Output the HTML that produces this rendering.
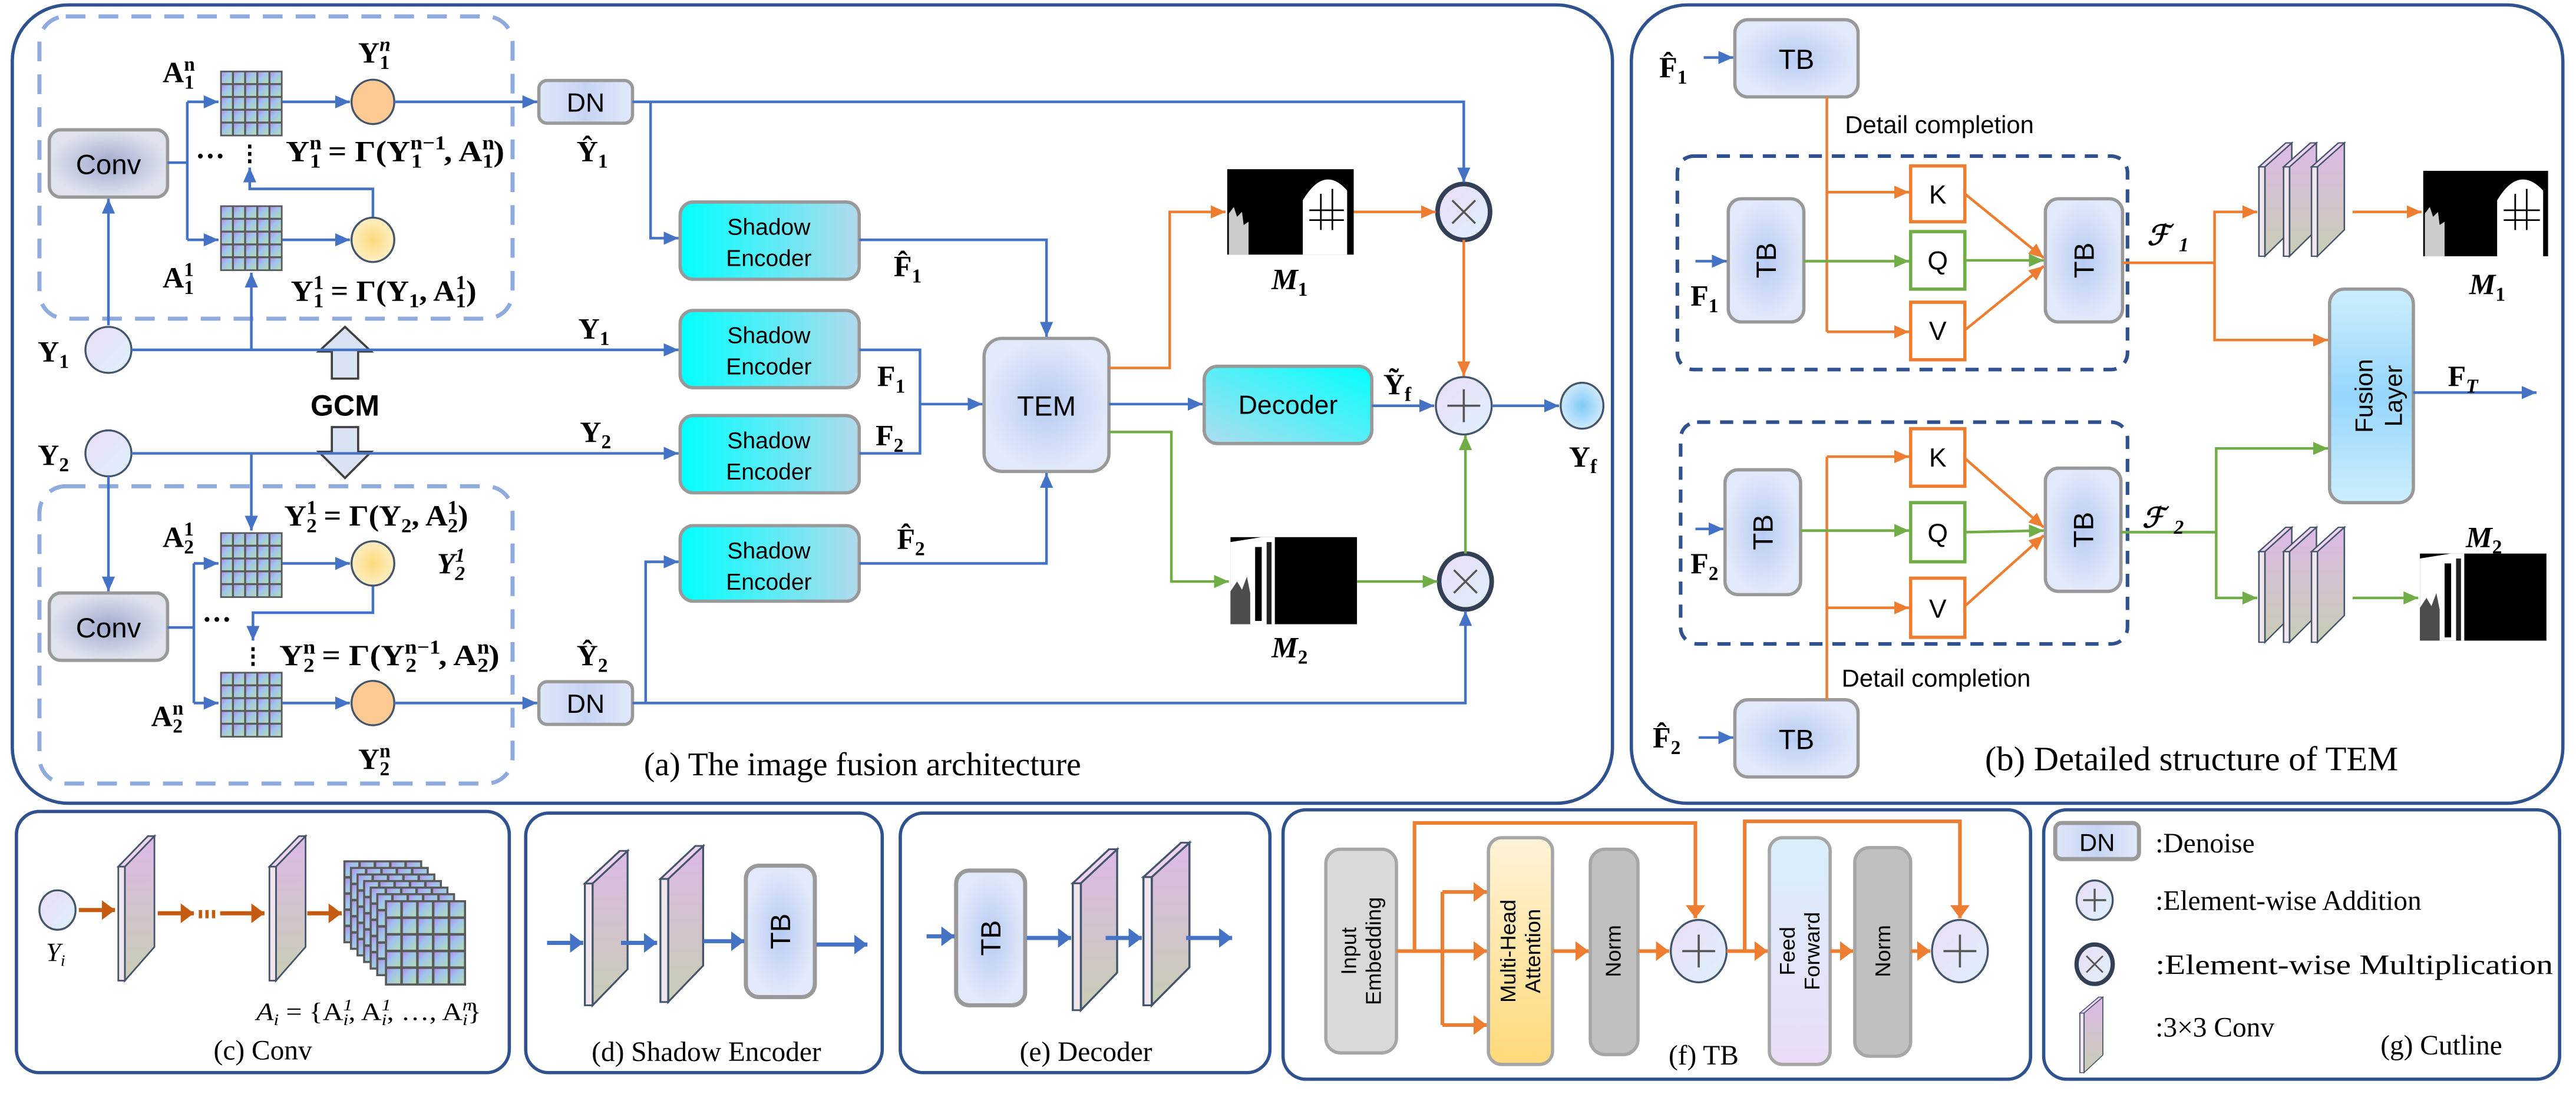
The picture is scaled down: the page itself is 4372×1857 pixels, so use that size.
<!DOCTYPE html>
<html><head><meta charset="utf-8"><style>
html,body{margin:0;padding:0;background:#fff}
svg{display:block}
.m{font-family:"Liberation Serif",serif;font-weight:bold;font-size:18px;fill:#000}
.s{font-size:12px}
.sn{font-family:"Liberation Sans",sans-serif;fill:#000}
.cap{font-family:"Liberation Serif",serif;fill:#000}
</style></head><body>
<svg width="4372" height="1857" viewBox="0 0 1568 666" xmlns="http://www.w3.org/2000/svg">
<defs>
<marker id="ab" markerWidth="10" markerHeight="10" refX="9" refY="5" orient="auto" markerUnits="userSpaceOnUse"><path d="M0,1 L9,5 L0,9z" fill="#4472c4"/></marker>
<marker id="ao" markerWidth="10" markerHeight="10" refX="9" refY="5" orient="auto" markerUnits="userSpaceOnUse"><path d="M0,1 L9,5 L0,9z" fill="#ed7d31"/></marker>
<marker id="ag" markerWidth="10" markerHeight="10" refX="9" refY="5" orient="auto" markerUnits="userSpaceOnUse"><path d="M0,1 L9,5 L0,9z" fill="#70ad47"/></marker>
<marker id="ar" markerWidth="10" markerHeight="12" refX="8" refY="6" orient="auto" markerUnits="userSpaceOnUse"><path d="M0,0 L8,6 L0,12z" fill="#c55a11"/></marker>
<marker id="ao2" markerWidth="10" markerHeight="12" refX="8" refY="6" orient="auto" markerUnits="userSpaceOnUse"><path d="M0,0 L8,6 L0,12z" fill="#ed7d31"/></marker>
<marker id="ab2" markerWidth="10" markerHeight="12" refX="8" refY="6" orient="auto" markerUnits="userSpaceOnUse"><path d="M0,0 L8,6 L0,12z" fill="#4472c4"/></marker>
<linearGradient id="gse" x1="0" x2="1"><stop offset="0" stop-color="#00ffff"/><stop offset="1" stop-color="#b2d9ec"/></linearGradient>
<linearGradient id="gdec" x1="0" y1="1" x2="1" y2="0"><stop offset="0" stop-color="#b0dcee"/><stop offset="1" stop-color="#00ffff"/></linearGradient>
<radialGradient id="gtb"><stop offset="0" stop-color="#b8cbf2"/><stop offset="1" stop-color="#e2e9fa"/></radialGradient>
<radialGradient id="gconv"><stop offset="0" stop-color="#9fa9cd"/><stop offset="1" stop-color="#e0e3ee"/></radialGradient>
<linearGradient id="gdn" x1="0" x2="1"><stop offset="0" stop-color="#dfe6f8"/><stop offset=".5" stop-color="#c6d4f4"/><stop offset="1" stop-color="#e2e9fa"/></linearGradient>
<linearGradient id="gcir" x1="0" y1="0" x2="1" y2="1"><stop offset="0" stop-color="#ebdcf6"/><stop offset="1" stop-color="#dcf1fb"/></linearGradient>
<radialGradient id="gyel"><stop offset="0" stop-color="#fdd97a"/><stop offset="1" stop-color="#fdeec4"/></radialGradient>
<radialGradient id="gyf"><stop offset="0" stop-color="#7fcaf7"/><stop offset="1" stop-color="#cfe9fb"/></radialGradient>
<linearGradient id="gfus" x1="0" y1="0" x2="0" y2="1"><stop offset="0" stop-color="#cdeefd"/><stop offset=".5" stop-color="#96d6fb"/><stop offset="1" stop-color="#cdeefd"/></linearGradient>
<linearGradient id="gslab" x1="0" y1="0" x2="0" y2="1"><stop offset="0" stop-color="#dcb9e6"/><stop offset="1" stop-color="#c8cdb4"/></linearGradient>
<linearGradient id="gcell" x1="0" y1="0" x2="1" y2="1"><stop offset="0" stop-color="#b28fe6"/><stop offset=".4" stop-color="#9fc3ee"/><stop offset="1" stop-color="#b3dcb0"/></linearGradient>
<linearGradient id="gmha" x1="0" y1="0" x2="0" y2="1"><stop offset="0" stop-color="#fff3d8"/><stop offset="1" stop-color="#ffd97a"/></linearGradient>
<linearGradient id="gff" x1="0" y1="0" x2="0" y2="1"><stop offset="0" stop-color="#d9effb"/><stop offset="1" stop-color="#eadcf6"/></linearGradient>
<symbol id="grid" viewBox="0 0 38 40" overflow="visible">
<rect x="0" y="0" width="38" height="40" fill="#5a5a5a"/>
<g fill="url(#gcell)">
<rect x="1" y="1" width="6.2" height="6.6"/><rect x="8.4" y="1" width="6.2" height="6.6"/><rect x="15.8" y="1" width="6.2" height="6.6"/><rect x="23.2" y="1" width="6.2" height="6.6"/><rect x="30.6" y="1" width="6.4" height="6.6"/>
<rect x="1" y="8.8" width="6.2" height="6.6"/><rect x="8.4" y="8.8" width="6.2" height="6.6"/><rect x="15.8" y="8.8" width="6.2" height="6.6"/><rect x="23.2" y="8.8" width="6.2" height="6.6"/><rect x="30.6" y="8.8" width="6.4" height="6.6"/>
<rect x="1" y="16.6" width="6.2" height="6.6"/><rect x="8.4" y="16.6" width="6.2" height="6.6"/><rect x="15.8" y="16.6" width="6.2" height="6.6"/><rect x="23.2" y="16.6" width="6.2" height="6.6"/><rect x="30.6" y="16.6" width="6.4" height="6.6"/>
<rect x="1" y="24.4" width="6.2" height="6.6"/><rect x="8.4" y="24.4" width="6.2" height="6.6"/><rect x="15.8" y="24.4" width="6.2" height="6.6"/><rect x="23.2" y="24.4" width="6.2" height="6.6"/><rect x="30.6" y="24.4" width="6.4" height="6.6"/>
<rect x="1" y="32.2" width="6.2" height="6.8"/><rect x="8.4" y="32.2" width="6.2" height="6.8"/><rect x="15.8" y="32.2" width="6.2" height="6.8"/><rect x="23.2" y="32.2" width="6.2" height="6.8"/><rect x="30.6" y="32.2" width="6.4" height="6.8"/>
</g></symbol>
<symbol id="slab" viewBox="0 0 22 90" preserveAspectRatio="none" overflow="visible">
<polygon points="4,19 22,0 22,69 4,90" fill="url(#gslab)" stroke="#44546a" stroke-width="1"/>
<polygon points="0,19 4,19 4,90 0,90" fill="#efe6ee" stroke="#44546a" stroke-width="1"/>
<polygon points="0,19 18,0 22,0 4,19" fill="#f0d4f4" stroke="#44546a" stroke-width="1"/>
</symbol>
</defs>

<!-- Panels -->
<g fill="none" stroke="#2f528f" stroke-width="2">
<rect x="7.5" y="3" width="974" height="486" rx="34"/>
<rect x="993" y="3" width="567" height="486" rx="34"/>
<rect x="10" y="494" width="300" height="159" rx="14"/>
<rect x="320" y="495" width="217" height="158" rx="14"/>
<rect x="548" y="495" width="225" height="158" rx="14"/>
<rect x="781" y="493" width="455" height="164" rx="14"/>
<rect x="1244" y="493" width="314" height="164" rx="14"/>
</g>

<!-- ===== Panel (a) ===== -->
<g fill="none" stroke="#8faadc" stroke-width="2.5" stroke-dasharray="12,8">
<rect x="24" y="10" width="288" height="184" rx="16"/>
<rect x="24" y="296" width="288" height="181" rx="16"/>
</g>
<rect x="30" y="79" width="72" height="41" rx="7" fill="url(#gconv)" stroke="#999" stroke-width="2"/>
<text x="66" y="106" class="sn" font-size="17" text-anchor="middle">Conv</text>
<rect x="30" y="361" width="72" height="41" rx="7" fill="url(#gconv)" stroke="#999" stroke-width="2"/>
<text x="66" y="388" class="sn" font-size="17" text-anchor="middle">Conv</text>
<use href="#grid" x="134" y="43" width="38" height="40"/>
<use href="#grid" x="134" y="125" width="38" height="40"/>
<use href="#grid" x="134" y="324" width="38" height="40"/>
<use href="#grid" x="134" y="409" width="38" height="40"/>
<ellipse cx="227" cy="62" rx="13" ry="13.5" fill="#fdca94" stroke="#44546a" stroke-width="1.2"/>
<ellipse cx="227" cy="146" rx="13" ry="13.5" fill="url(#gyel)" stroke="#44546a" stroke-width="1.2"/>
<ellipse cx="227" cy="343" rx="13" ry="13.5" fill="url(#gyel)" stroke="#44546a" stroke-width="1.2"/>
<ellipse cx="227" cy="428" rx="13" ry="13.5" fill="#fdca94" stroke="#44546a" stroke-width="1.2"/>
<ellipse cx="66" cy="213" rx="14" ry="14" fill="url(#gcir)" stroke="#44546a" stroke-width="1.2"/>
<ellipse cx="66" cy="276" rx="14" ry="14" fill="url(#gcir)" stroke="#44546a" stroke-width="1.2"/>
<rect x="328" y="49" width="57" height="26" rx="5" fill="url(#gdn)" stroke="#999" stroke-width="2"/>
<text x="356.5" y="68" class="sn" font-size="16" text-anchor="middle">DN</text>
<rect x="328" y="415" width="57" height="26" rx="5" fill="url(#gdn)" stroke="#999" stroke-width="2"/>
<text x="356.5" y="434" class="sn" font-size="16" text-anchor="middle">DN</text>
<g stroke="#999" stroke-width="2" fill="url(#gse)">
<rect x="414" y="123" width="109" height="47" rx="8"/>
<rect x="414" y="189" width="109" height="47" rx="8"/>
<rect x="414" y="253" width="109" height="47" rx="8"/>
<rect x="414" y="320" width="109" height="46" rx="8"/>
</g>
<g class="sn" font-size="14" text-anchor="middle">
<text x="468" y="143">Shadow</text><text x="468" y="162">Encoder</text>
<text x="468" y="209">Shadow</text><text x="468" y="228">Encoder</text>
<text x="468" y="273">Shadow</text><text x="468" y="292">Encoder</text>
<text x="468" y="340">Shadow</text><text x="468" y="359">Encoder</text>
</g>
<rect x="599" y="206" width="76" height="81" rx="11" fill="url(#gtb)" stroke="#999" stroke-width="2"/>
<text x="637" y="253" class="sn" font-size="17" text-anchor="middle">TEM</text>
<rect x="733" y="223" width="102" height="47" rx="8" fill="url(#gdec)" stroke="#999" stroke-width="2"/>
<text x="784" y="252" class="sn" font-size="16" text-anchor="middle">Decoder</text>
<!-- M images -->
<rect x="747" y="103" width="77" height="52" fill="#000"/>
<path d="M793,155 V122 Q806,100 820,116 V155 Z" fill="#fff"/>
<path d="M797,128 H818 M797,134 H818 M804,118 V140 M811,115 V140" stroke="#000" stroke-width="1"/>
<path d="M748,130 l3,-4 l2,6 l3,-3 l1,8 l3,-2 l0,20 h-12z" fill="#fff" opacity=".8"/>
<rect x="749" y="327" width="77" height="53" fill="#000"/>
<path d="M749,330 L768,327 L776,327 L776,380 L749,380 Z" fill="#fff"/>
<rect x="764" y="333" width="4" height="45" fill="#000"/><rect x="771" y="330" width="3" height="50" fill="#222"/>
<path d="M749,360 l4,-6 l3,5 l3,-8 l2,10 v19 h-12z" fill="#000" opacity=".7"/>
<ellipse cx="891" cy="129" rx="16" ry="17" fill="url(#gcir)" stroke="#333f55" stroke-width="2.8"/>
<path d="M884,122 L898,136 M898,122 L884,136" stroke="#555" stroke-width="1.2"/>
<ellipse cx="892" cy="354" rx="16" ry="17" fill="url(#gcir)" stroke="#333f55" stroke-width="2.8"/>
<path d="M885,347 L899,361 M899,347 L885,361" stroke="#555" stroke-width="1.2"/>
<ellipse cx="891" cy="247" rx="17" ry="17.5" fill="url(#gcir)" stroke="#44546a" stroke-width="1.2"/>
<path d="M881,247 H901 M891,237 V257" stroke="#555" stroke-width="1.3"/>
<ellipse cx="963" cy="247" rx="13" ry="14" fill="url(#gyf)" stroke="#44546a" stroke-width="1.2"/>
<polygon points="210,199 226,214 218,214 218,230.5 202,230.5 202,214 194,214" fill="#dae3f3" stroke="#404040" stroke-width="1.3"/>
<polygon points="202,260 218,260 218,275 226,275 210,291 194,275 202,275" fill="#dae3f3" stroke="#404040" stroke-width="1.3"/>
<text x="210" y="253" class="sn" font-size="18" font-weight="bold" text-anchor="middle">GCM</text>

<g fill="none" stroke="#4472c4" stroke-width="1.6">
<path d="M66,198 V121" marker-end="url(#ab)"/>
<path d="M102,99 H114"/><path d="M114,62 V146"/>
<path d="M114,62 H133" marker-end="url(#ab)"/><path d="M114,146 H133" marker-end="url(#ab)"/>
<path d="M172,62 H213" marker-end="url(#ab)"/><path d="M172,146 H213" marker-end="url(#ab)"/>
<path d="M227,132 V115 H152 V102" marker-end="url(#ab)"/>
<path d="M153,213 V166" marker-end="url(#ab)"/>
<path d="M240,62 H327" marker-end="url(#ab)"/>
<path d="M80,213 H413" marker-end="url(#ab)"/>
<path d="M385,62 H891 V111" marker-end="url(#ab)"/>
<path d="M396,62 V145 H413" marker-end="url(#ab)"/>
<path d="M66,290 V360" marker-end="url(#ab)"/>
<path d="M80,276 H413" marker-end="url(#ab)"/>
<path d="M153,276 V323" marker-end="url(#ab)"/>
<path d="M102,382 H118"/><path d="M118,343 V428"/>
<path d="M118,343 H133" marker-end="url(#ab)"/><path d="M118,428 H133" marker-end="url(#ab)"/>
<path d="M172,343 H213" marker-end="url(#ab)"/><path d="M172,428 H213" marker-end="url(#ab)"/>
<path d="M227,357 V373 H154 V390" marker-end="url(#ab)"/>
<path d="M240,428 H327" marker-end="url(#ab)"/>
<path d="M385,428 H892 V372" marker-end="url(#ab)"/>
<path d="M393,428 V342 H413" marker-end="url(#ab)"/>
<path d="M523,146 H637 V205" marker-end="url(#ab)"/>
<path d="M523,213 H560 V276 H523"/>
<path d="M560,246 H598" marker-end="url(#ab)"/>
<path d="M523,343 H637 V288" marker-end="url(#ab)"/>
<path d="M675,246 H732" marker-end="url(#ab)"/>
<path d="M835,247 H873" marker-end="url(#ab)"/>
<path d="M908,247 H949" marker-end="url(#ab)"/>
</g>
<g fill="none" stroke="#ed7d31" stroke-width="1.6">
<path d="M675,224 H712 V129 H746" marker-end="url(#ao)"/>
<path d="M824,129 H874" marker-end="url(#ao)"/>
<path d="M891,146 V229" marker-end="url(#ao)"/>
</g>
<g fill="none" stroke="#70ad47" stroke-width="1.6">
<path d="M675,263 H713 V354 H748" marker-end="url(#ag)"/>
<path d="M826,354 H875" marker-end="url(#ag)"/>
<path d="M892,337 V265" marker-end="url(#ag)"/>
</g>
<text x="119" y="101" class="m" font-size="14">···</text>
<text x="123" y="383" class="m" font-size="14">···</text>
<g fill="#000"><rect x="151" y="88" width="2" height="2.4"/><rect x="151" y="92.5" width="2" height="2.4"/><rect x="151" y="97" width="2" height="2.4"/>
<rect x="153" y="394" width="2" height="2.4"/><rect x="153" y="398.5" width="2" height="2.4"/><rect x="153" y="403" width="2" height="2.4"/></g>

<!-- labels panel a -->
<text x="99" y="50" class="m">A<tspan class="s" dy="-7">n</tspan><tspan class="s" dx="-6.5" dy="11">1</tspan></text>
<text x="99" y="175" class="m">A<tspan class="s" dy="-7">1</tspan><tspan class="s" dx="-6" dy="11">1</tspan></text>
<text x="99" y="333" class="m">A<tspan class="s" dy="-7">1</tspan><tspan class="s" dx="-6" dy="11">2</tspan></text>
<text x="92" y="442" class="m">A<tspan class="s" dy="-7">n</tspan><tspan class="s" dx="-6.5" dy="11">2</tspan></text>
<text x="218" y="38" class="m">Y<tspan class="s" dy="-7" font-style="italic">n</tspan><tspan class="s" dx="-6.5" dy="11">1</tspan></text>
<text x="218" y="468" class="m">Y<tspan class="s" dy="-7">n</tspan><tspan class="s" dx="-6.5" dy="11">2</tspan></text>
<text x="174" y="98" class="m" textLength="133" lengthAdjust="spacingAndGlyphs">Y<tspan class="s" dy="-7">n</tspan><tspan class="s" dx="-6.5" dy="11">1</tspan><tspan dy="-4" dx="4">= Γ(Y</tspan><tspan class="s" dy="-7">n−1</tspan><tspan class="s" dx="-19" dy="11">1</tspan><tspan dy="-4" dx="12">, A</tspan><tspan class="s" dy="-7">n</tspan><tspan class="s" dx="-6.5" dy="11">1</tspan><tspan dy="-4">)</tspan></text>
<text x="177" y="183" class="m" textLength="113" lengthAdjust="spacingAndGlyphs">Y<tspan class="s" dy="-7">1</tspan><tspan class="s" dx="-6" dy="11">1</tspan><tspan dy="-4" dx="4">= Γ(Y</tspan><tspan class="s" dy="4">1</tspan><tspan dy="-4">, A</tspan><tspan class="s" dy="-7">1</tspan><tspan class="s" dx="-6" dy="11">1</tspan><tspan dy="-4">)</tspan></text>
<text x="173" y="320" class="m" textLength="112" lengthAdjust="spacingAndGlyphs">Y<tspan class="s" dy="-7">1</tspan><tspan class="s" dx="-6" dy="11">2</tspan><tspan dy="-4" dx="4">= Γ(Y</tspan><tspan class="s" dy="4">2</tspan><tspan dy="-4">, A</tspan><tspan class="s" dy="-7">1</tspan><tspan class="s" dx="-6" dy="11">2</tspan><tspan dy="-4">)</tspan></text>
<text x="266" y="349" class="m" font-style="italic">Y<tspan class="s" dy="-7">1</tspan><tspan class="s" dx="-6" dy="11">2</tspan></text>
<text x="170" y="405" class="m" textLength="134" lengthAdjust="spacingAndGlyphs">Y<tspan class="s" dy="-7">n</tspan><tspan class="s" dx="-6.5" dy="11">2</tspan><tspan dy="-4" dx="4">= Γ(Y</tspan><tspan class="s" dy="-7">n−1</tspan><tspan class="s" dx="-19" dy="11">2</tspan><tspan dy="-4" dx="12">, A</tspan><tspan class="s" dy="-7">n</tspan><tspan class="s" dx="-6.5" dy="11">2</tspan><tspan dy="-4">)</tspan></text>
<text x="23" y="220" class="m" font-size="19">Y<tspan class="s" dy="4">1</tspan></text>
<text x="23" y="283" class="m" font-size="19">Y<tspan class="s" dy="4">2</tspan></text>
<text x="352" y="206" class="m">Y<tspan class="s" dy="4">1</tspan></text>
<text x="353" y="269" class="m">Y<tspan class="s" dy="4">2</tspan></text>
<text x="351" y="98" class="m">Ŷ<tspan class="s" dy="4">1</tspan></text>
<text x="351" y="405" class="m">Ŷ<tspan class="s" dy="4">2</tspan></text>
<text x="544" y="168" class="m">F̂<tspan class="s" dy="4">1</tspan></text>
<text x="534" y="235" class="m">F<tspan class="s" dy="4">1</tspan></text>
<text x="533" y="271" class="m">F<tspan class="s" dy="4">2</tspan></text>
<text x="546" y="334" class="m">F̂<tspan class="s" dy="4">2</tspan></text>
<text x="842" y="240" class="m">Ỹ<tspan class="s" dy="4">f</tspan></text>
<text x="955" y="284" class="m">Y<tspan class="s" dy="4">f</tspan></text>
<text x="774" y="176" class="m" font-style="italic" font-size="19">M<tspan class="s" dy="4" font-style="normal">1</tspan></text>
<text x="774" y="400" class="m" font-style="italic" font-size="19">M<tspan class="s" dy="4" font-style="normal">2</tspan></text>
<text x="525" y="472" class="cap" font-size="20" text-anchor="middle">(a) The image fusion architecture</text>

<!-- ===== Panel (b) ===== -->
<g fill="none" stroke="#2f528f" stroke-width="2.2" stroke-dasharray="8,6">
<rect x="1021" y="95" width="274" height="130" rx="10"/>
<rect x="1023" y="257" width="272" height="135" rx="10"/>
</g>
<g stroke="#999" stroke-width="2" fill="url(#gtb)">
<rect x="1056" y="12" width="75" height="47" rx="8"/>
<rect x="1052" y="121" width="46" height="75" rx="8"/>
<rect x="1245" y="121" width="47" height="75" rx="8"/>
<rect x="1050" y="286" width="46" height="76" rx="8"/>
<rect x="1245" y="285" width="46" height="75" rx="8"/>
<rect x="1056" y="426" width="75" height="47" rx="8"/>
</g>
<g class="sn" font-size="17" text-anchor="middle">
<text x="1093.5" y="42">TB</text>
<text x="1093.5" y="456">TB</text>
<text transform="translate(1081,158.5) rotate(-90)">TB</text>
<text transform="translate(1274.5,158.5) rotate(-90)">TB</text>
<text transform="translate(1079,324) rotate(-90)">TB</text>
<text transform="translate(1274,322.5) rotate(-90)">TB</text>
</g>
<g fill="#fff" stroke-width="2">
<rect x="1163" y="101" width="33" height="34" stroke="#ed7d31"/>
<rect x="1163" y="141" width="33" height="35" stroke="#70ad47"/>
<rect x="1163" y="184" width="33" height="35" stroke="#ed7d31"/>
<rect x="1163" y="261" width="33" height="35" stroke="#ed7d31"/>
<rect x="1163" y="306" width="33" height="36" stroke="#70ad47"/>
<rect x="1163" y="352" width="33" height="36" stroke="#ed7d31"/>
</g>
<g class="sn" font-size="16" text-anchor="middle">
<text x="1179.5" y="124">K</text><text x="1179.5" y="164">Q</text><text x="1179.5" y="207">V</text>
<text x="1179.5" y="284">K</text><text x="1179.5" y="330">Q</text><text x="1179.5" y="376">V</text>
</g>
<rect x="1418" y="176" width="51" height="130" rx="9" fill="url(#gfus)" stroke="#999" stroke-width="2"/>
<text transform="translate(1448,241) rotate(-90)" class="sn" font-size="15" text-anchor="middle"><tspan x="0" y="-4">Fusion</tspan><tspan x="0" y="14">Layer</tspan></text>
<use href="#slab" x="1375" y="87" width="20" height="69"/>
<use href="#slab" x="1390" y="87" width="20" height="69"/>
<use href="#slab" x="1407" y="87" width="20" height="69"/>
<use href="#slab" x="1375" y="321" width="20" height="70"/>
<use href="#slab" x="1390" y="321" width="20" height="70"/>
<use href="#slab" x="1407" y="321" width="20" height="70"/>
<rect x="1475" y="104" width="76" height="52" fill="#000"/>
<path d="M1520,156 V122 Q1533,100 1548,116 V156 Z" fill="#fff"/>
<path d="M1524,128 H1546 M1524,134 H1546 M1531,118 V140 M1538,115 V140" stroke="#000" stroke-width="1"/>
<path d="M1476,130 l3,-4 l2,6 l3,-3 l1,8 l3,-2 l0,21 h-12z" fill="#fff" opacity=".8"/>
<rect x="1473" y="337" width="77" height="53" fill="#000"/>
<path d="M1473,340 L1492,337 L1500,337 L1500,390 L1473,390 Z" fill="#fff"/>
<rect x="1488" y="343" width="4" height="45" fill="#000"/><rect x="1495" y="340" width="3" height="50" fill="#222"/>
<path d="M1473,370 l4,-6 l3,5 l3,-8 l2,10 v19 h-12z" fill="#000" opacity=".7"/>
<g fill="none" stroke="#4472c4" stroke-width="1.6">
<path d="M1037,35 H1055" marker-end="url(#ab)"/>
<path d="M1032,159 H1051" marker-end="url(#ab)"/>
<path d="M1032,322 H1049" marker-end="url(#ab)"/>
<path d="M1034,449 H1055" marker-end="url(#ab)"/>
<path d="M1469,239 H1544" marker-end="url(#ab)"/>
</g>
<g fill="none" stroke="#ed7d31" stroke-width="1.6">
<path d="M1112,59 V202"/>
<path d="M1112,117 H1162" marker-end="url(#ao)"/>
<path d="M1112,202 H1162" marker-end="url(#ao)"/>
<path d="M1196,118 L1244,157" marker-end="url(#ao)"/>
<path d="M1196,201 L1244,162" marker-end="url(#ao)"/>
<path d="M1292,160 H1348 V129 H1374" marker-end="url(#ao)"/>
<path d="M1348,160 V207 H1417" marker-end="url(#ao)"/>
<path d="M1432,129 H1474" marker-end="url(#ao)"/>
<path d="M1112,426 V278"/>
<path d="M1112,278 H1162" marker-end="url(#ao)"/>
<path d="M1112,370 H1162" marker-end="url(#ao)"/>
<path d="M1196,279 L1244,321" marker-end="url(#ao)"/>
<path d="M1196,369 L1244,326" marker-end="url(#ao)"/>
</g>
<g fill="none" stroke="#70ad47" stroke-width="1.6">
<path d="M1098,159 H1162" marker-end="url(#ag)"/>
<path d="M1196,158.5 H1244" marker-end="url(#ag)"/>
<path d="M1096,323 H1162" marker-end="url(#ag)"/>
<path d="M1196,324 L1244,323" marker-end="url(#ag)"/>
<path d="M1291,324 H1349 V273 H1417" marker-end="url(#ag)"/>
<path d="M1349,324 V364 H1374" marker-end="url(#ag)"/>
<path d="M1432,364 H1472" marker-end="url(#ag)"/>
</g>
<text x="1123" y="81" class="sn" font-size="15">Detail completion</text>
<text x="1121" y="418" class="sn" font-size="15">Detail completion</text>
<text x="1010" y="47" class="m">F̂<tspan class="s" dy="4">1</tspan></text>
<text x="1029" y="186" class="m">F<tspan class="s" dy="4">1</tspan></text>
<text x="1029" y="349" class="m">F<tspan class="s" dy="4">2</tspan></text>
<text x="1006" y="455" class="m">F̂<tspan class="s" dy="4">2</tspan></text>
<text x="1307" y="149" font-family="DejaVu Serif,serif" font-style="italic" font-weight="bold" font-size="17">ℱ <tspan font-family="Liberation Serif" font-size="12" dy="4">1</tspan></text>
<text x="1304" y="321" font-family="DejaVu Serif,serif" font-style="italic" font-weight="bold" font-size="17">ℱ <tspan font-family="Liberation Serif" font-size="12" dy="4">2</tspan></text>
<text x="1503" y="179" class="m" font-style="italic" font-size="19">M<tspan class="s" dy="4" font-style="normal">1</tspan></text>
<text x="1501" y="333" class="m" font-style="italic" font-size="19">M<tspan class="s" dy="4" font-style="normal">2</tspan></text>
<text x="1490" y="235" class="m">F<tspan class="s" dy="4" font-style="italic">T</tspan></text>
<text x="1334" y="469" class="cap" font-size="21" text-anchor="middle">(b) Detailed structure of TEM</text>

<!-- ===== Panel (c) ===== -->
<ellipse cx="35" cy="554" rx="11" ry="12" fill="url(#gcir)" stroke="#44546a" stroke-width="1.2"/>
<use href="#slab" x="72" y="509" width="22" height="88"/>
<use href="#slab" x="164" y="509" width="22" height="88"/>
<g>
<use href="#grid" x="209" y="523" width="48" height="52"/>
<use href="#grid" x="213" y="527" width="48" height="52"/>
<use href="#grid" x="217" y="531" width="48" height="52"/>
<use href="#grid" x="221" y="535" width="48" height="52"/>
<use href="#grid" x="225" y="539" width="48" height="52"/>
<use href="#grid" x="229" y="543" width="48" height="52"/>
<use href="#grid" x="234" y="548" width="50" height="52"/>
</g>
<g fill="none" stroke="#c55a11" stroke-width="2.5">
<path d="M48,554 H70" marker-end="url(#ar)"/>
<path d="M96,556 H118" marker-end="url(#ar)"/>
<path d="M134,556 H161" marker-end="url(#ar)"/>
<path d="M187,556 H208" marker-end="url(#ar)"/>
</g>
<g fill="#c55a11"><rect x="121" y="554" width="2" height="5"/><rect x="125" y="554" width="2" height="5"/><rect x="129" y="554" width="2" height="5"/></g>
<text x="28" y="585" class="cap" font-style="italic" font-size="16">Y<tspan font-size="10" dy="3">i</tspan></text>
<text x="156" y="621" class="cap" font-style="italic" font-size="15" textLength="137" lengthAdjust="spacingAndGlyphs">A<tspan font-size="10" dy="3">i</tspan><tspan dy="-3" font-style="normal"> = {A</tspan><tspan font-size="10" dy="-6">1</tspan><tspan font-size="10" dx="-5" dy="9">i</tspan><tspan dy="-3" font-style="normal">, A</tspan><tspan font-size="10" dy="-6">1</tspan><tspan font-size="10" dx="-5" dy="9">i</tspan><tspan dy="-3" font-style="normal">, …, A</tspan><tspan font-size="10" dy="-6">n</tspan><tspan font-size="10" dx="-5" dy="9">i</tspan><tspan dy="-3" font-style="normal">}</tspan></text>
<text x="160" y="645" class="cap" font-size="17" text-anchor="middle">(c) Conv</text>

<!-- ===== Panel (d) ===== -->
<use href="#slab" x="356" y="518" width="26" height="94"/>
<use href="#slab" x="402" y="515" width="26" height="95"/>
<rect x="454" y="527" width="42" height="80" rx="8" fill="url(#gtb)" stroke="#999" stroke-width="2.5"/>
<text transform="translate(481,567) rotate(-90)" class="sn" font-size="17" text-anchor="middle">TB</text>
<g fill="none" stroke="#4472c4" stroke-width="2.5">
<path d="M333,574 H355" marker-end="url(#ab2)"/>
<path d="M378,574 H400" marker-end="url(#ab2)"/>
<path d="M428,573 H453" marker-end="url(#ab2)"/>
<path d="M497,575 H528" marker-end="url(#ab2)"/>
</g>
<text x="430" y="646" class="cap" font-size="17" text-anchor="middle">(d) Shadow Encoder</text>

<!-- ===== Panel (e) ===== -->
<rect x="582" y="530" width="42" height="82" rx="8" fill="url(#gtb)" stroke="#999" stroke-width="2.5"/>
<text transform="translate(609,571) rotate(-90)" class="sn" font-size="17" text-anchor="middle">TB</text>
<use href="#slab" x="653" y="517" width="27" height="98"/>
<use href="#slab" x="696" y="513" width="28" height="99"/>
<g fill="none" stroke="#4472c4" stroke-width="2.5">
<path d="M564,570 H581" marker-end="url(#ab2)"/>
<path d="M625,571 H652" marker-end="url(#ab2)"/>
<path d="M673,571 H695" marker-end="url(#ab2)"/>
<path d="M722,571 H750" marker-end="url(#ab2)"/>
</g>
<text x="661" y="646" class="cap" font-size="17" text-anchor="middle">(e) Decoder</text>

<!-- ===== Panel (f) ===== -->
<rect x="807" y="517" width="43" height="124" rx="9" fill="#d9d9d9" stroke="#a6a6a6" stroke-width="2"/>
<text transform="translate(828.5,579) rotate(-90)" class="sn" font-size="13" text-anchor="middle"><tspan x="0" y="-3">Input</tspan><tspan x="0" y="12">Embedding</tspan></text>
<rect x="906" y="510" width="39" height="138" rx="8" fill="url(#gmha)" stroke="#a6a6a6" stroke-width="2"/>
<text transform="translate(925.5,579) rotate(-90)" class="sn" font-size="13" text-anchor="middle"><tspan x="0" y="-3">Multi-Head</tspan><tspan x="0" y="12">Attention</tspan></text>
<rect x="968" y="517" width="29" height="125" rx="9" fill="#c0c0c0" stroke="#a6a6a6" stroke-width="2"/>
<text transform="translate(986.5,579) rotate(-90)" class="sn" font-size="13" text-anchor="middle">Norm</text>
<rect x="1077" y="510" width="37" height="138" rx="8" fill="url(#gff)" stroke="#a6a6a6" stroke-width="2"/>
<text transform="translate(1095.5,579) rotate(-90)" class="sn" font-size="13" text-anchor="middle"><tspan x="0" y="-3">Feed</tspan><tspan x="0" y="12">Forward</tspan></text>
<rect x="1129" y="516" width="34" height="127" rx="9" fill="#c0c0c0" stroke="#a6a6a6" stroke-width="2"/>
<text transform="translate(1150.5,579) rotate(-90)" class="sn" font-size="13" text-anchor="middle">Norm</text>
<ellipse cx="1034" cy="579" rx="17" ry="19" fill="url(#gcir)" stroke="#44546a" stroke-width="1.2"/>
<path d="M1024,579 H1044 M1034,569 V589" stroke="#555" stroke-width="1.3"/>
<ellipse cx="1193" cy="579" rx="17" ry="19" fill="url(#gcir)" stroke="#44546a" stroke-width="1.2"/>
<path d="M1183,579 H1203 M1193,569 V589" stroke="#555" stroke-width="1.3"/>
<g fill="none" stroke="#ed7d31" stroke-width="2.2">
<path d="M850,579 H905" marker-end="url(#ao2)"/>
<path d="M878,543 V624"/>
<path d="M878,543 H905" marker-end="url(#ao2)"/>
<path d="M878,624 H905" marker-end="url(#ao2)"/>
<path d="M861,579 V501 H1032 V559" marker-end="url(#ao2)"/>
<path d="M945,579 H967" marker-end="url(#ao2)"/>
<path d="M997,579 H1016" marker-end="url(#ao2)"/>
<path d="M1051,579 H1076" marker-end="url(#ao2)"/>
<path d="M1062,579 V500 H1193 V559" marker-end="url(#ao2)"/>
<path d="M1114,579 H1128" marker-end="url(#ao2)"/>
<path d="M1163,579 H1175" marker-end="url(#ao2)"/>
</g>
<text x="1037" y="648" class="cap" font-size="17" text-anchor="middle">(f) TB</text>

<!-- ===== Panel (g) ===== -->
<rect x="1251" y="501" width="51" height="22" rx="4" fill="url(#gdn)" stroke="#999" stroke-width="2.5"/>
<text x="1276.5" y="518" class="sn" font-size="15" text-anchor="middle">DN</text>
<text x="1312" y="519" class="cap" font-size="17">:Denoise</text>
<ellipse cx="1275" cy="548" rx="11" ry="12" fill="url(#gcir)" stroke="#44546a" stroke-width="1.2"/>
<path d="M1268,548 H1282 M1275,541 V555" stroke="#555" stroke-width="1.2"/>
<text x="1312" y="554" class="cap" font-size="17">:Element-wise Addition</text>
<ellipse cx="1275" cy="587" rx="11" ry="12" fill="url(#gcir)" stroke="#333f55" stroke-width="2.6"/>
<path d="M1270,582 L1280,592 M1280,582 L1270,592" stroke="#555" stroke-width="1"/>
<text x="1312" y="593" class="cap" font-size="17" textLength="242" lengthAdjust="spacingAndGlyphs">:Element-wise Multiplication</text>
<use href="#slab" x="1266" y="607" width="14" height="46"/>
<text x="1312" y="631" class="cap" font-size="17">:3×3 Conv</text>
<text x="1449" y="642" class="cap" font-size="17">(g) Cutline</text>
</svg>
</body></html>
